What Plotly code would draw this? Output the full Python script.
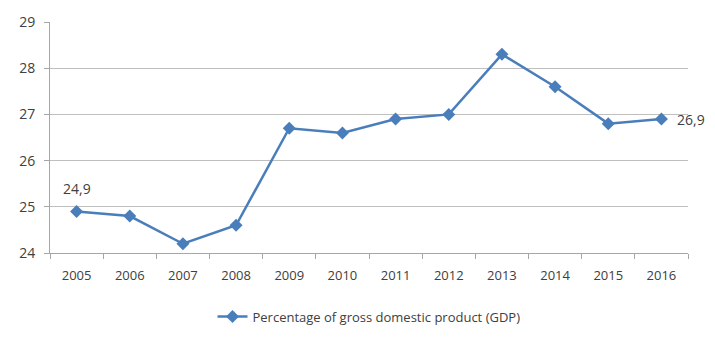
import plotly.graph_objects as go

years = ["2005", "2006", "2007", "2008", "2009", "2010", "2011", "2012", "2013", "2014", "2015", "2016"]
gdp_pct = [24.9, 24.8, 24.2, 24.6, 26.7, 26.6, 26.9, 27.0, 28.3, 27.6, 26.8, 26.9]
series_name = "Percentage of gross domestic product (GDP)"
y_ticks = [24, 25, 26, 27, 28, 29]

def fmt(v):
    return f"{v:.1f}".replace(".", ",")

blue = "#4A7EBB"
font_fam = "Open Sans, Liberation Sans, sans-serif"

fig = go.Figure()
fig.add_trace(go.Scatter(
    x=years, y=gdp_pct, name=series_name,
    mode="lines+markers",
    line=dict(color=blue, width=2.5),
    marker=dict(symbol="diamond", size=10, color=blue),
    cliponaxis=False,
))

first_i, last_i = 0, len(years) - 1
fig.add_annotation(x=first_i, y=gdp_pct[first_i], xref="x", yref="y",
                   text=fmt(gdp_pct[first_i]), showarrow=False,
                   yshift=23, font=dict(size=14, color="#404040", family=font_fam))
fig.add_annotation(x=last_i, y=gdp_pct[last_i], xref="x", yref="y",
                   text=fmt(gdp_pct[last_i]), showarrow=False,
                   xanchor="left", xshift=14, font=dict(size=14, color="#404040", family=font_fam))

fig.update_layout(
    width=715, height=354,
    margin=dict(l=50, r=27, t=22, b=101, autoexpand=False),
    paper_bgcolor="white", plot_bgcolor="white",
    font=dict(family=font_fam, size=13, color="#404040"),
    showlegend=True,
    legend=dict(orientation="h", x=0.5, xanchor="center", y=-0.21, yanchor="top",
                font=dict(size=13, color="#404040", family=font_fam)),
    xaxis=dict(type="category", range=[-0.5, 11.5], tickson="boundaries",
               ticks="outside", ticklen=5, tickcolor="#A6A6A6",
               showline=True, linecolor="#A6A6A6", linewidth=1,
               showgrid=False, ticklabelstandoff=10,
               tickfont=dict(size=13, color="#404040")),
    yaxis=dict(range=[24, 29], tickvals=y_ticks, ticks="outside", ticklen=5,
               tickcolor="#A6A6A6", showline=True, linecolor="#A6A6A6",
               showgrid=True, gridcolor="#BFBFBF", gridwidth=1, zeroline=False,
               ticklabelstandoff=6,
               tickfont=dict(size=14, color="#404040")),
)

fig.write_html("out.html")
